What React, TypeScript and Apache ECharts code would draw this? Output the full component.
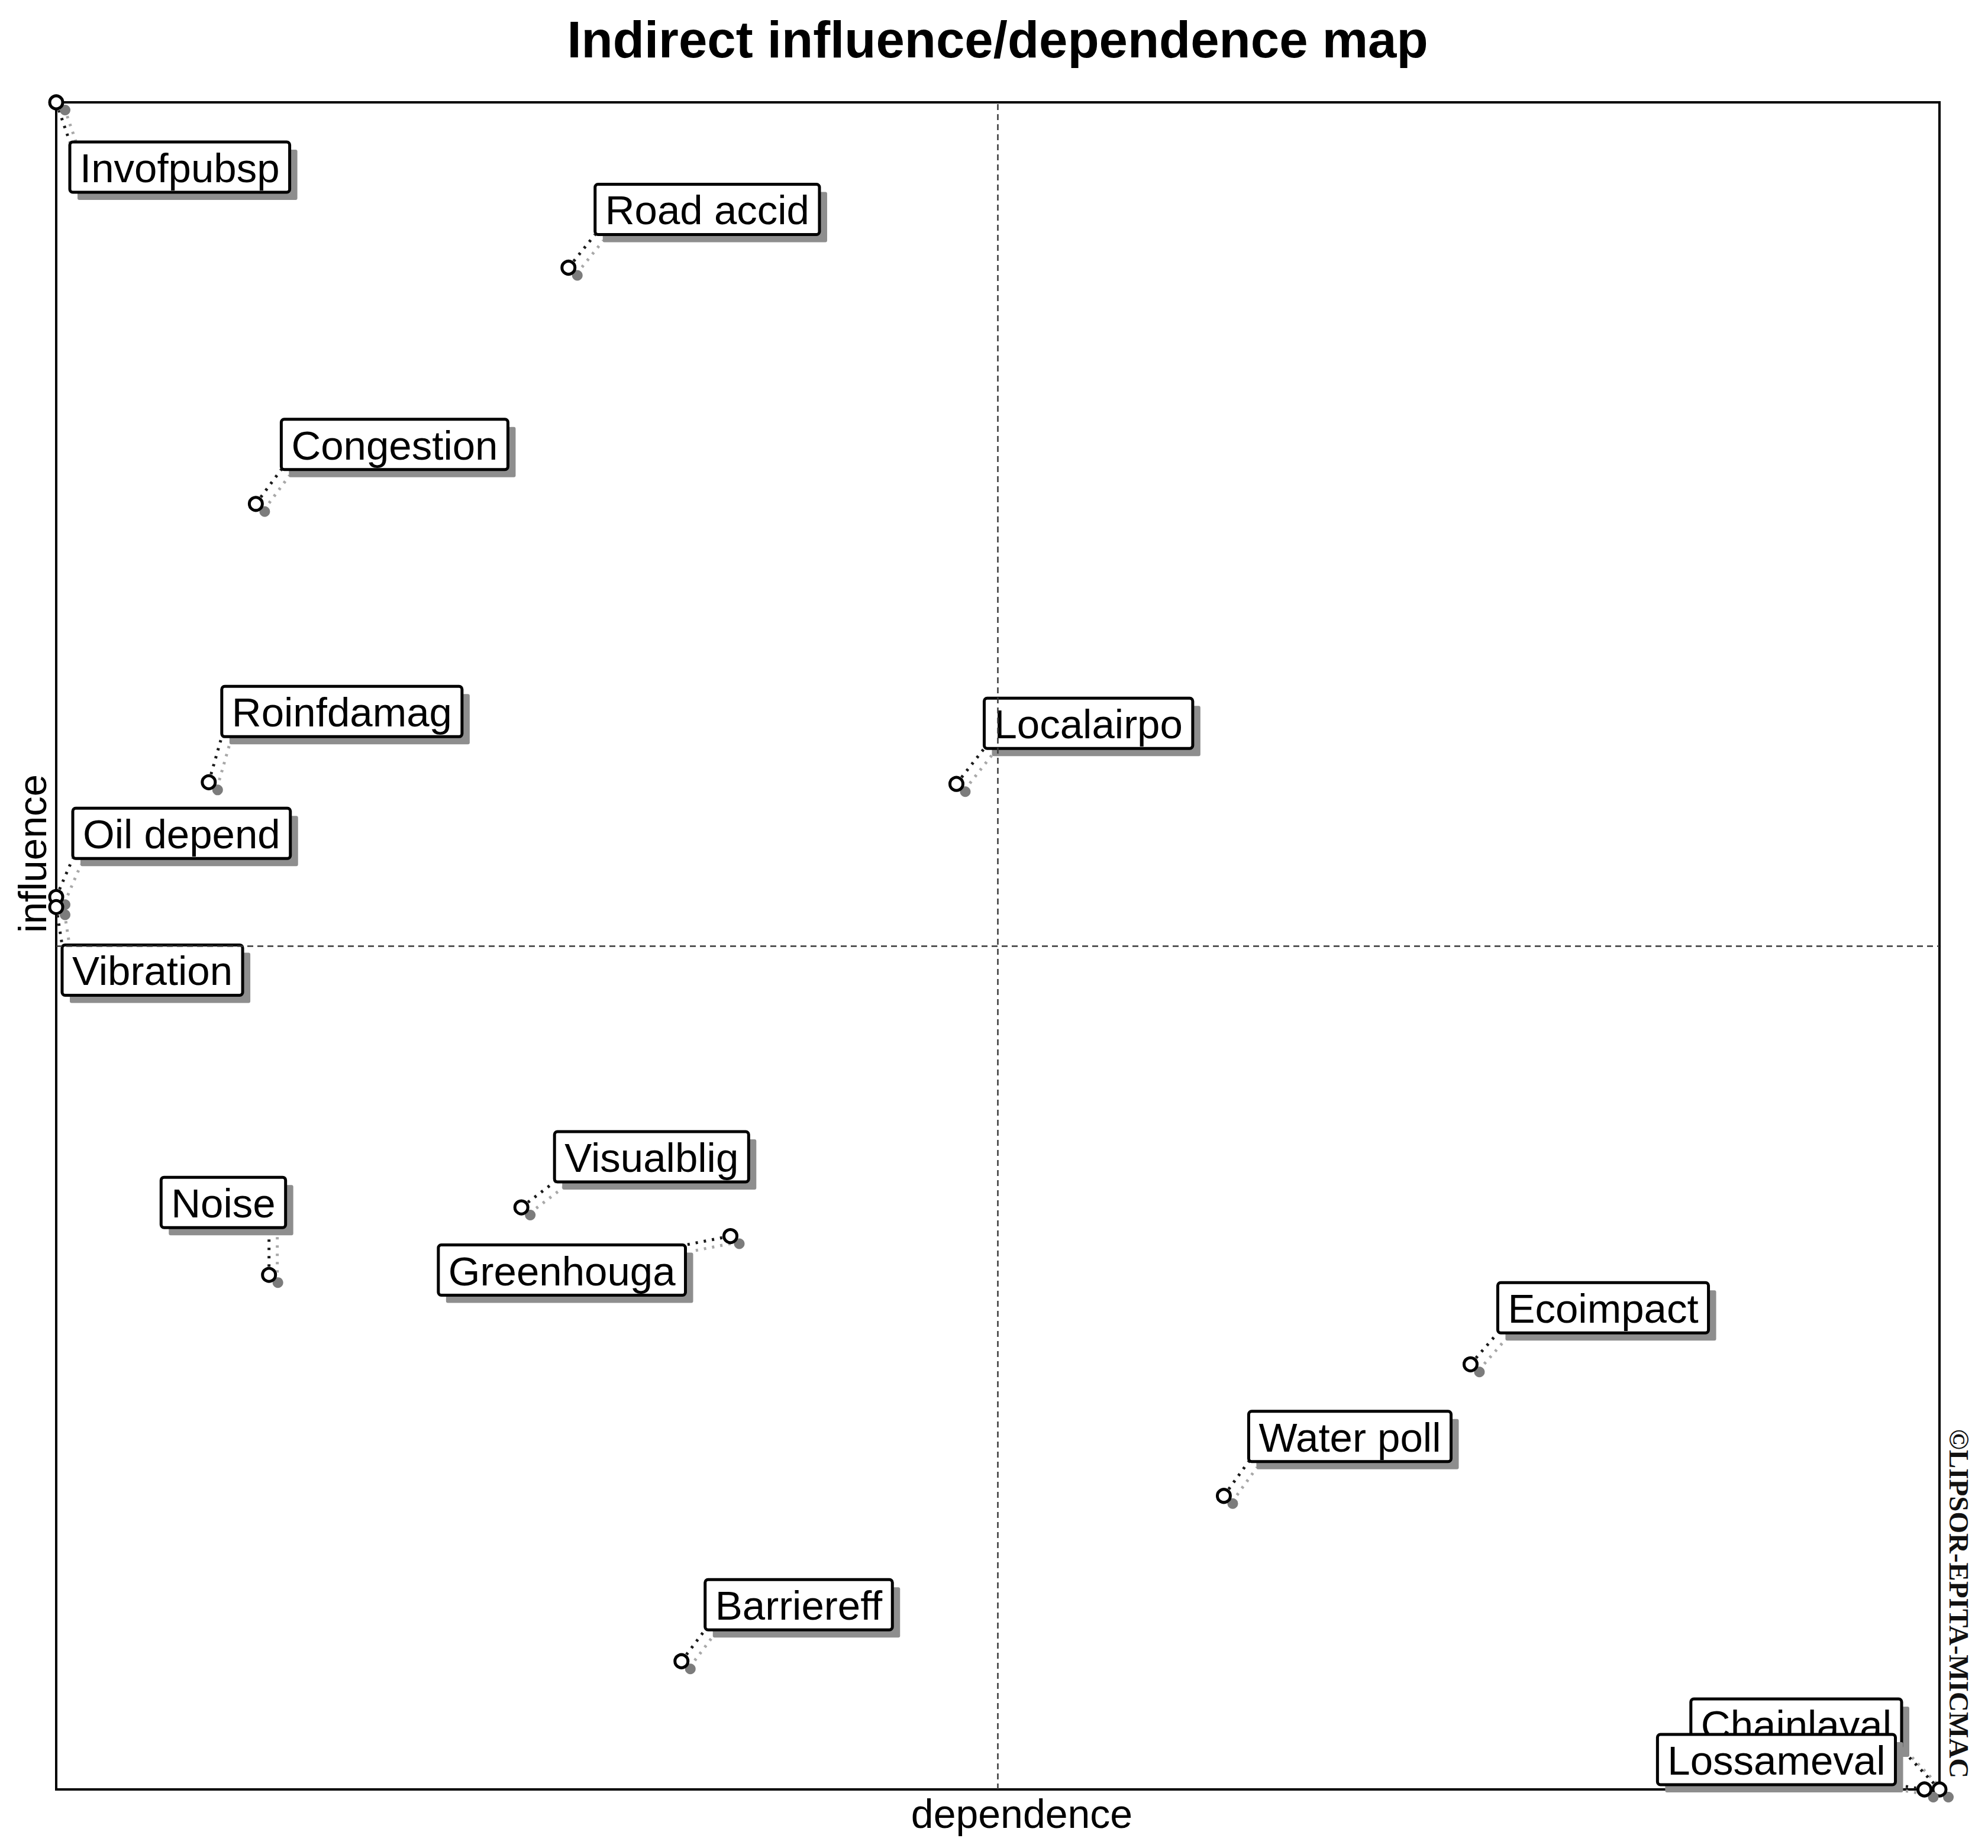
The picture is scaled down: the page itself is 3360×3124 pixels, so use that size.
import React, { useEffect, useRef } from 'react';
import * as echarts from 'echarts';

// ---------- texts ----------
const TITLE = 'Indirect influence/dependence map';
const X_NAME = 'dependence';
const Y_NAME = 'influence';
const WATERMARK = '©LIPSOR-EPITA-MICMAC';

// ---------- data (axis range 0..100) ----------
const VARIABLES = [
  'Invofpubsp', 'Road accid', 'Congestion', 'Roinfdamag', 'Localairpo',
  'Oil depend', 'Vibration', 'Noise', 'Visualblig', 'Greenhouga',
  'Ecoimpact', 'Water poll', 'Barriereff', 'Chainlaval', 'Lossameval',
];
const DEPENDENCE = [0, 27.2, 10.6, 8.1, 47.8, 0, 0, 11.3, 24.7, 35.8, 75.1, 62.0, 33.2, 100, 99.2];
const INFLUENCE = [100, 90.2, 76.2, 59.7, 59.6, 52.9, 52.3, 30.5, 34.5, 32.8, 25.2, 17.4, 7.6, 0, 0];
const AXIS_MIN = 0;
const AXIS_MAX = 100;
const MEAN_DEPENDENCE = 50;
const MEAN_INFLUENCE = 50;

// ---------- label layout (style): box corner reached by the connector, offset in px ----------
type Layout = { corner: string; dx: number; dy: number; lx?: number; ly?: number };
const LABEL_LAYOUT: Layout[] = [
  { corner: 'tl', dx: 23, dy: 67 },
  { corner: 'bl', dx: 45, dy: -56 },
  { corner: 'bl', dx: 43, dy: -58 },
  { corner: 'bl', dx: 22, dy: -77 },
  { corner: 'bl', dx: 47, dy: -60 },
  { corner: 'bl', dx: 28, dy: -65 },
  { corner: 'tl', dx: 10, dy: 64 },
  { corner: 'br', dx: 28, dy: -80, lx: 0, ly: -80 },
  { corner: 'bl', dx: 56, dy: -43 },
  { corner: 'tr', dx: -76, dy: 15 },
  { corner: 'bl', dx: 46, dy: -53 },
  { corner: 'bl', dx: 42, dy: -58 },
  { corner: 'bl', dx: 40, dy: -53 },
  { corner: 'br', dx: -64, dy: -68 },
  { corner: 'br', dx: -49, dy: -8 },
];

const FONT = '"Liberation Sans", Arial, Helvetica, sans-serif';
const LABEL_FONT_SIZE = 69;
const BOX_H = 85;
const PAD_X = 17;

let measureCtx: CanvasRenderingContext2D | null = null;
function measure(text: string): number {
  if (!measureCtx) {
    measureCtx = document.createElement('canvas').getContext('2d');
  }
  if (!measureCtx) return text.length * LABEL_FONT_SIZE * 0.5;
  measureCtx.font = `${LABEL_FONT_SIZE}px "Liberation Sans", Arial, sans-serif`;
  return measureCtx.measureText(text).width;
}

const renderItem = (params: any, api: any) => {
  const i = params.dataIndex;
  const pt = api.coord([api.value(0), api.value(1)]);
  const px = pt[0];
  const py = pt[1];
  const lay = LABEL_LAYOUT[i];
  const name = VARIABLES[i];
  const w = measure(name) + 2 * PAD_X;
  const h = BOX_H;
  const ax = px + lay.dx;
  const ay = py + lay.dy;
  const bx = lay.corner[1] === 'l' ? ax : ax - w;
  const by = lay.corner[0] === 't' ? ay : ay - h;
  const lx = px + (lay.lx ?? lay.dx);
  const ly = py + (lay.ly ?? lay.dy);
  return {
    type: 'group',
    children: [
      {
        type: 'line',
        shape: { x1: px + 14, y1: py + 10, x2: lx + 14, y2: ly + 10 },
        style: { stroke: '#a8a8a8', lineWidth: 5, lineDash: [4, 10] },
      },
      {
        type: 'line',
        shape: { x1: px, y1: py, x2: lx, y2: ly },
        style: { stroke: '#1a1a1a', lineWidth: 5, lineDash: [4, 10] },
      },
      {
        type: 'circle',
        shape: { cx: px + 15, cy: py + 13, r: 9 },
        style: { fill: '#7c7c7c' },
      },
      {
        type: 'circle',
        shape: { cx: px, cy: py, r: 11 },
        style: { fill: '#ffffff', stroke: '#000000', lineWidth: 5 },
      },
      {
        type: 'rect',
        shape: { x: bx + 13, y: by + 13, width: w, height: h, r: 3 },
        style: { fill: '#8e8e8e' },
      },
      {
        type: 'rect',
        shape: { x: bx, y: by, width: w, height: h, r: 5 },
        style: { fill: '#ffffff', stroke: '#000000', lineWidth: 5 },
      },
      {
        type: 'text',
        x: bx + PAD_X,
        y: by + h / 2 + 2,
        style: {
          text: name,
          fill: '#000000',
          fontSize: LABEL_FONT_SIZE,
          fontFamily: FONT,
          align: 'left',
          verticalAlign: 'middle',
        },
      },
    ],
  };
};

export default function App() {
  const ref = useRef<HTMLDivElement>(null);
  useEffect(() => {
    if (!ref.current) return;
    const chart = echarts.init(ref.current, null, { renderer: 'svg' });
    const option: any = {
      animation: false,
      backgroundColor: '#ffffff',
      grid: {
        left: 95,
        right: 82,
        top: 173,
        bottom: 99,
        show: true,
        borderColor: '#000000',
        borderWidth: 4,
        backgroundColor: 'transparent',
      },
      xAxis: {
        type: 'value',
        min: AXIS_MIN,
        max: AXIS_MAX,
        axisLine: { show: false },
        axisTick: { show: false },
        axisLabel: { show: false },
        splitLine: { show: false },
      },
      yAxis: {
        type: 'value',
        min: AXIS_MIN,
        max: AXIS_MAX,
        axisLine: { show: false },
        axisTick: { show: false },
        axisLabel: { show: false },
        splitLine: { show: false },
      },
      graphic: [
        {
          type: 'text',
          x: 1686,
          y: 66,
          style: {
            text: TITLE,
            fontSize: 87,
            fontWeight: 'bold',
            fontFamily: FONT,
            fill: '#000000',
            align: 'center',
            verticalAlign: 'middle',
          },
        },
        {
          type: 'text',
          x: 1727,
          y: 3066,
          style: {
            text: X_NAME,
            fontSize: 68,
            fontFamily: FONT,
            fill: '#000000',
            align: 'center',
            verticalAlign: 'middle',
          },
        },
        {
          type: 'text',
          x: 54,
          y: 1443,
          rotation: Math.PI / 2,
          style: {
            text: Y_NAME,
            fontSize: 67,
            fontFamily: FONT,
            fill: '#000000',
            align: 'center',
            verticalAlign: 'middle',
          },
        },
        {
          type: 'text',
          x: 3311,
          y: 2711,
          rotation: -Math.PI / 2,
          style: {
            text: WATERMARK,
            fontSize: 47,
            fontWeight: 'bold',
            fontFamily: '"Liberation Serif", "Times New Roman", serif',
            fill: '#111111',
            align: 'center',
            verticalAlign: 'middle',
          },
        },
      ],
      series: [
        {
          type: 'custom',
          coordinateSystem: 'cartesian2d',
          clip: false,
          renderItem,
          data: VARIABLES.map((n, i) => ({ name: n, value: [DEPENDENCE[i], INFLUENCE[i]] })),
          markLine: {
            silent: true,
            symbol: ['none', 'none'],
            label: { show: false },
            lineStyle: { type: [10, 7], color: '#3a3a3a', width: 2.5 },
            data: [{ xAxis: MEAN_DEPENDENCE }, { yAxis: MEAN_INFLUENCE }],
          },
        },
      ],
    };
    chart.setOption(option);
    return () => chart.dispose();
  }, []);
  return (
    <div
      ref={ref}
      style={{ position: 'absolute', left: 0, top: 0, width: 3360, height: 3124, background: '#ffffff' }}
    />
  );
}
